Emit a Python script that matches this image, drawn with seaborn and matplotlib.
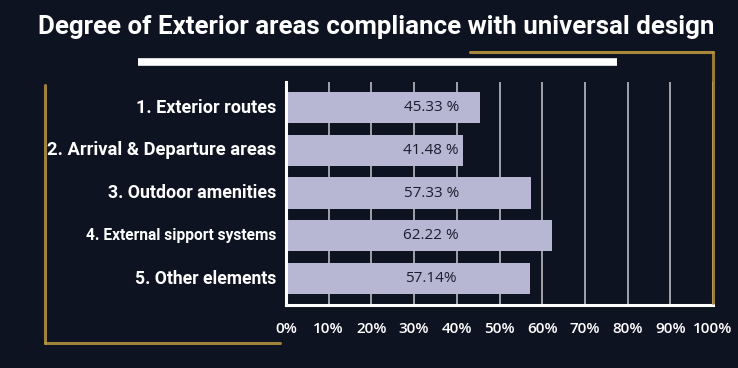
import matplotlib
matplotlib.use("Agg")
import matplotlib.pyplot as plt
import seaborn as sns
import pandas as pd
from matplotlib.lines import Line2D

categories = ["1. Exterior routes", "2. Arrival & Departure areas", "3. Outdoor amenities",
              "4. External sipport systems", "5. Other elements"]
values = [45.33, 41.48, 57.33, 62.22, 57.14]
value_labels = ["45.33 %", "41.48 %", "57.33 %", "62.22 %", "57.14%"]
ticks = [0, 10, 20, 30, 40, 50, 60, 70, 80, 90, 100]
tick_labels = ["0%", "10%", "20%", "30%", "40%", "50%", "60%", "70%", "80%", "90%", "100%"]
title = "Degree of Exterior areas compliance with universal design"

sns.set_theme(style="dark")
BG = "#0d1321"
df = pd.DataFrame({"category": categories, "value": values})

fig = plt.figure(figsize=(7.38, 3.68), dpi=100, facecolor=BG)
ax = fig.add_axes([286/738, 1-305/368, (713-286)/738, (305-82)/368])
ax.set_facecolor("none")

sns.barplot(data=df, x="value", y="category", orient="h", color="#b7b7d4",
            saturation=1, width=0.73, ax=ax, zorder=3, linewidth=0)
ax.set_xlim(0, 100)
ax.set_ylim(4.62, -0.6)
ax.set_xticks(ticks)
ax.set_xticklabels(tick_labels, color="white", fontsize=11, family="Open Sans",
                   fontweight="semibold")
ax.set_yticks([])
ax.set_xlabel("")
ax.set_ylabel("")
ax.tick_params(axis="x", length=0, pad=12)
for t in ticks[1:]:
    ax.axvline(t, color="#c9c9cf", lw=1.1, zorder=1)
for s in ["top", "right"]:
    ax.spines[s].set_visible(False)
for s in ["left", "bottom"]:
    ax.spines[s].set_color("white")
    ax.spines[s].set_linewidth(2.2)
    ax.spines[s].set_zorder(5)
ax.grid(False)

# category labels
sizes = [13.0, 13.2, 12.8, 11.2, 12.7]
for i, c in enumerate(categories):
    ax.text(-0.023, i, c, transform=ax.get_yaxis_transform(), ha="right", va="center",
            color="white", fontsize=sizes[i], fontweight="bold", family="Roboto")
# value labels
for i, lab in enumerate(value_labels):
    ax.text(34, i, lab, ha="center", va="center", color="#1b1d2e", fontsize=11,
            family="Open Sans", zorder=6)

# title
fig.text(376/738, 1-27/368, title, ha="center", va="center", color="white",
         fontsize=18.6, fontweight="bold", family="Roboto")
# underline bar
fig.add_artist(Line2D([138/738, 617/738], [1-62/368, 1-62/368], color="white", lw=5.5,
                      solid_capstyle="butt"))

# gold frame
gold = "#b8953f"
fig.add_artist(Line2D([470/738, 713/738], [1-52/368, 1-52/368], color=gold, lw=2.2, alpha=0.9))
fig.add_artist(Line2D([713/738, 713/738], [1-52/368, 1-303/368], color=gold, lw=2.2, alpha=0.8))
fig.add_artist(Line2D([45/738, 45/738], [1-85/368, 1-343/368], color=gold, lw=2.2, alpha=0.85))
fig.add_artist(Line2D([45/738, 280/738], [1-343/368, 1-343/368], color=gold, lw=2.2, alpha=0.85))

fig.savefig("out.png", dpi=100, facecolor=BG)
